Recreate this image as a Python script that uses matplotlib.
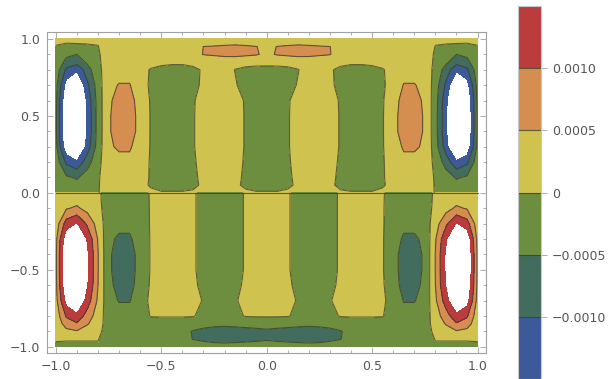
import numpy as np
import matplotlib.pyplot as plt
from matplotlib.ticker import MultipleLocator, FuncFormatter

# grid nodes; the field is mirror symmetric in x so only x >= 0 is stored
x_half = np.linspace(0.0, 1.0, 21)
y_top = [0.0, 0.05, 0.1, 0.2, 0.3, 0.4, 0.5, 0.6, 0.7, 0.8, 0.85, 0.9, 0.95, 1.0]
y_bottom = [0.0, -0.05, -0.1, -0.2, -0.3, -0.4, -0.5, -0.6, -0.7, -0.8, -0.85, -0.9, -0.95, -1.0]

# field values in units of 1e-4, one row per y node
top_rows = [
    [0.5, 0.5, 1, 1.5, 2, 2, 1.5, 0.8, 0.5, 0.5, 0.5, 1, 2, 3, 3, 2.5, -0.3, -1.5, -3, -2.4, -0.4],
    [-2, -2, -1, 1, 2.5, 2.5, 1, -1.2, -2, -2, -2, -0.5, 1.5, 3, 3, 2.5, -0.4, -1.75, -3.5, -2.75, -0.5],
    [-2.2, -2.2, -0.8, 1.2, 2.5, 2.5, 1.2, -1, -2.2, -2.3, -2.2, -0.4, 1.8, 3.5, 3.5, 3, -0.6, -2.7, -5.5, -4.3, -0.8],
    [-2.3, -2.2, -0.5, 1.4, 2.5, 2.5, 1.4, -0.6, -2.2, -2.4, -2.2, -0.4, 2.2, 4, 4, 3.5, -1.5, -7, -14, -11, -2],
    [-2.5, -2.2, -0.3, 1.5, 2.5, 2.5, 1.5, -0.3, -2, -2.5, -2, -0.3, 3, 5.5, 5.5, 4.5, -2.7, -12.5, -25, -19.6, -3.6],
    [-2.5, -2.2, -0.3, 1.5, 2.5, 2.5, 1.5, -0.3, -2, -2.5, -2, -0.3, 3.5, 7, 6.5, 4.6, -3, -14, -28, -22, -4],
    [-2.5, -2.2, -0.3, 1.5, 2.5, 2.5, 1.5, -0.3, -2, -2.5, -2, -0.3, 3.5, 7, 6.5, 4.6, -3, -14, -28, -22, -4],
    [-2.5, -2.2, -0.4, 1.5, 2.5, 2.5, 1.5, -0.4, -2, -2.5, -2, -0.4, 3.2, 6.5, 6, 4.5, -2.9, -13.4, -27, -21, -3.8],
    [-2.5, -2.3, -1.2, 0.3, 2.2, 2.2, 0.8, -1.2, -2.2, -2.5, -2.2, -0.8, 2.4, 5.2, 5.2, 4, -2.4, -11, -22, -17.4, -3.2],
    [-1, -0.9, -0.6, -0.1, 1.5, 1.8, 0.3, -0.6, -1, -1, -0.9, -0.3, 1.5, 3.5, 3.5, 3, -1.5, -7, -14, -11, -2],
    [1, 1, 1, 1.5, 2, 2, 1.5, 0.8, 0.5, 0.5, 0.8, 1.5, 2, 3, 3, 2.5, -0.9, -4, -8, -6.4, -1.2],
    [4, 5.4, 6, 6.5, 6.2, 5.6, 5.2, 3, 2, 2, 2, 2.5, 2.5, 2.5, 2.5, 2, -0.5, -2.5, -5, -4, -0.7],
    [4, 5.1, 5.6, 6, 5.7, 5.3, 5.05, 3, 2, 2, 2, 2.5, 2.5, 2.5, 2.5, 2, -0.1, -0.5, -1, -0.8, -0.1],
    [1, 1.5, 1.5, 1.5, 1.5, 1.5, 1.5, 1, 1, 1, 1, 1, 1, 1, 1.5, 1.5, 0.5, 1, 1.5, 1, 0.5],
]
bottom_rows = [
    [2.5, 2.2, 0.4, -1.5, -2.5, -2.5, -1.2, 0.5, 2, 2.5, 2, 0.3, -1.5, -2, -2, -1, 0.37, 1.1, 2, 1.6, 0.3],
    [2.5, 2.2, 0.4, -1.5, -2.5, -2.5, -1.2, 0.5, 2, 2.5, 2, 0.3, -1.8, -2.5, -2.5, -1.5, 0.65, 2, 3.5, 2.75, 0.5],
    [2.5, 2.2, 0.4, -1.5, -2.5, -2.5, -1.2, 0.5, 2, 2.5, 2, 0.3, -2, -3, -3, -2, 1.1, 3.3, 5.8, 4.6, 0.8],
    [2.5, 2.2, 0.4, -1.5, -2.5, -2.5, -1.2, 0.5, 2, 2.5, 2, 0.3, -2.2, -4, -4, -3, 2.9, 8.9, 15.5, 12.2, 2.2],
    [2.5, 2.2, 0.4, -1.5, -2.5, -2.5, -1.2, 0.5, 2, 2.5, 2, 0.3, -3, -5.6, -5.6, -4.2, 4.6, 14.2, 25, 19.6, 3.6],
    [2.5, 2.2, 0.4, -1.5, -2.5, -2.5, -1.2, 0.5, 2, 2.5, 2, 0.3, -3.2, -7, -6.5, -4.4, 5.2, 16, 28, 22, 4],
    [2.5, 2.2, 0.4, -1.5, -2.5, -2.5, -1.2, 0.5, 2, 2.5, 2, 0.3, -3.2, -7, -6.5, -4.4, 5.2, 16, 28, 22, 4],
    [2.5, 2.3, 0.8, -1.2, -2.5, -2.5, -1, 0.8, 2.2, 2.5, 2.2, 0.5, -3, -6.5, -6, -4.2, 5, 15.4, 27, 21, 3.8],
    [2.5, 2.4, 1.5, -0.5, -2.2, -2.2, -0.3, 1.5, 2.3, 2.5, 2.3, 1, -2.4, -5.2, -5.2, -3.5, 4.1, 12.6, 22, 17.4, 3.2],
    [0.3, 0.3, 0.2, -0.8, -1.5, -1.5, -0.8, 0.2, 0.3, 0.3, 0.3, 0.2, -2, -3.5, -3.5, -2.5, 2.5, 7.7, 13.5, 10.6, 1.9],
    [-2.5, -2.8, -3, -3.3, -3.5, -3.3, -3, -2.5, -2, -2, -2, -2, -2, -2.5, -2.5, -2, 1.8, 5.4, 9.5, 7.5, 1.4],
    [-6, -6.5, -7, -7.5, -8, -7.5, -6.5, -5.3, -3.5, -2, -2, -2, -2, -2, -2, -1.5, 0.8, 2.6, 4.5, 3.5, 0.6],
    [-5.5, -6, -6.5, -7, -7.5, -7, -6, -5.1, -3.5, -2, -2, -2, -2, -2, -2, -1.2, 0.1, 0.3, 0.5, 0.4, 0.1],
    [-2.5, -2.5, -2.5, -2.5, -2.5, -2.5, -2.5, -2, -1.5, -1, -1, -1.5, -2, -2, -2, -1.5, -0.3, -0.9, -1.5, -1.2, -0.2],
]

levels = [-0.0015, -0.001, -0.0005, 0.0, 0.0005, 0.001, 0.0015]
band_colors = ['#3c5a9a', '#426c5e', '#6c8e3e', '#cfc24f', '#d58e4f', '#bb3c3c']
line_color = '#3a3a2c'
text_color = '#555555'
frame_color = '#a0a0a0'


def mirror(rows):
    z = np.array(rows, dtype=float) * 1e-4
    return np.hstack([z[:, :0:-1], z])


x_full = np.concatenate([-x_half[:0:-1], x_half])
z_top = mirror(top_rows)
z_bottom = mirror(bottom_rows)

fig = plt.figure(figsize=(6.09, 3.79), dpi=100)
ax = fig.add_axes([47 / 609, 26 / 379, 439 / 609, 321 / 379])

# the two halves are drawn separately, the field jumps across y = 0
for yy, zz in [(y_top, z_top), (y_bottom, z_bottom)]:
    cf = ax.contourf(x_full, yy, zz, levels=levels, colors=band_colors)
    ax.contour(x_full, yy, zz, levels=levels[1:-1], colors=line_color,
               linewidths=0.8, alpha=0.75, linestyles='solid')
ax.plot([-1, 1], [0, 0], color=line_color, lw=0.8, alpha=0.75)

ax.set_xlim(-1.042, 1.04)
ax.set_ylim(-1.04, 1.045)


def num_fmt(v, pos=None):
    if abs(v) < 1e-12:
        return '0.0'
    return f'{v:.1f}'.replace('-', '\u2212')


ax.xaxis.set_major_locator(MultipleLocator(0.5))
ax.yaxis.set_major_locator(MultipleLocator(0.5))
ax.xaxis.set_minor_locator(MultipleLocator(0.1))
ax.yaxis.set_minor_locator(MultipleLocator(0.1))
ax.xaxis.set_major_formatter(FuncFormatter(num_fmt))
ax.yaxis.set_major_formatter(FuncFormatter(num_fmt))
ax.tick_params(which='both', direction='in', top=True, right=True,
               color=frame_color, width=0.6, labelsize=9,
               labelcolor=text_color, pad=5)
ax.tick_params(which='major', length=4)
ax.tick_params(which='minor', length=2)
for sp in ax.spines.values():
    sp.set_color(frame_color)
    sp.set_linewidth(0.8)

# colour key
cax = fig.add_axes([518 / 609, 0.0, 23 / 609, 373 / 379])
cb = fig.colorbar(cf, cax=cax, ticks=levels[1:-1], drawedges=True)
cb.dividers.set_color(line_color)
cb.dividers.set_linewidth(0.8)
cb.dividers.set_alpha(0.75)
cb.outline.set_edgecolor('#c8c8c8')
cb.outline.set_linewidth(0.8)


def key_fmt(v, pos=None):
    if abs(v) < 1e-12:
        return '0'
    return f'{v:.4f}'.replace('-', '\u2212')


cb.ax.yaxis.set_major_formatter(FuncFormatter(key_fmt))
cb.ax.tick_params(length=4, width=0.6, color=frame_color, labelsize=9,
                  labelcolor=text_color, pad=4)

fig.savefig('out.png', dpi=100)
